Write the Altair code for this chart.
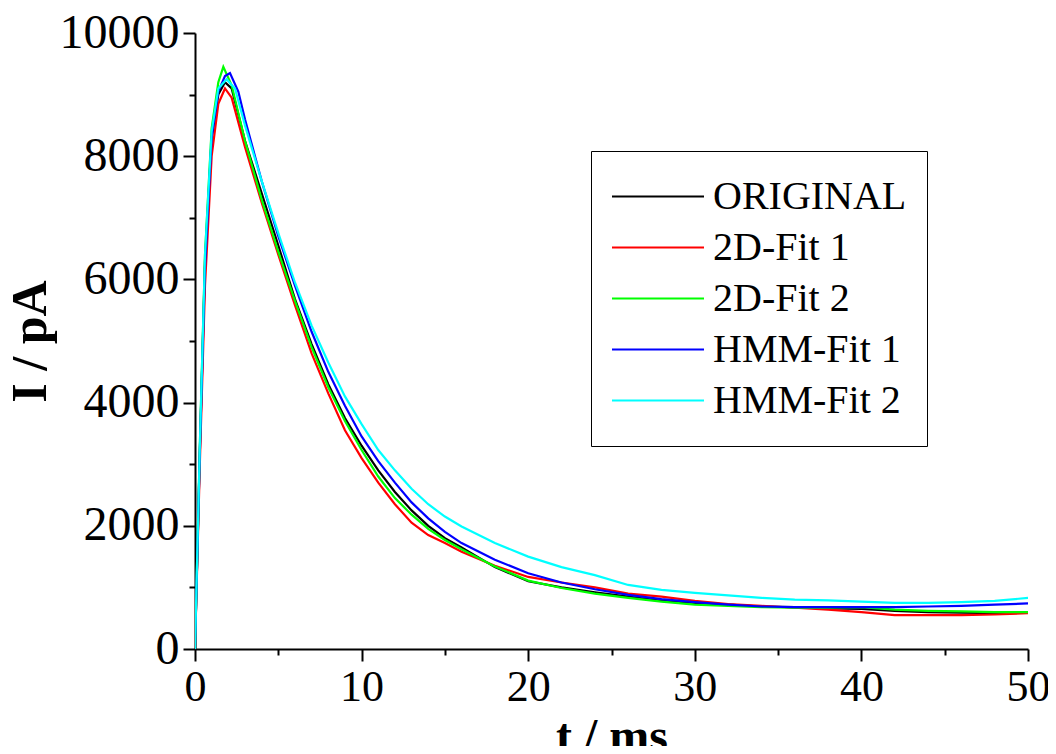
import altair as alt
import pandas as pd

series_names = ["ORIGINAL", "2D-Fit 1", "2D-Fit 2", "HMM-Fit 1", "HMM-Fit 2"]
series_colors = ["#000000", "#ff0000", "#00ff00", "#0000ff", "#00ffff"]

t_original = [0, 0.3, 0.6, 1.0, 1.4, 1.8, 2.2, 3, 4, 5, 6, 7, 8, 9, 10, 11, 12, 13, 14, 15, 16, 18, 20, 22, 24, 26, 28, 30, 32, 34, 36, 38, 40, 42, 44, 46, 48, 50]
i_original = [0, 3300, 6300, 8300, 9000, 9200, 9100, 8250, 7400, 6550, 5680, 4950, 4300, 3750, 3300, 2900, 2550, 2250, 2000, 1800, 1650, 1330, 1100, 1000, 920, 850, 780, 750, 720, 690, 680, 660, 650, 620, 600, 590, 580, 590]

t_fit2d_1 = [0, 0.3, 0.6, 1.0, 1.4, 1.8, 2.2, 3, 4, 5, 6, 7, 8, 9, 10, 11, 12, 13, 14, 15, 16, 18, 20, 22, 24, 26, 28, 30, 32, 34, 36, 38, 40, 42, 44, 46, 48, 50]
i_fit2d_1 = [0, 3100, 5900, 8000, 8850, 9100, 8950, 8150, 7250, 6400, 5580, 4800, 4150, 3550, 3100, 2700, 2350, 2050, 1850, 1720, 1580, 1350, 1170, 1080, 1000, 900, 850, 780, 730, 700, 670, 640, 600, 550, 550, 550, 560, 580]

t_fit2d_2 = [0, 0.3, 0.6, 1.0, 1.4, 1.7, 2.2, 3, 4, 5, 6, 7, 8, 9, 10, 11, 12, 13, 14, 15, 16, 18, 20, 22, 24, 26, 28, 30, 32, 34, 36, 38, 40, 42, 44, 46, 48, 50]
i_fit2d_2 = [0, 3400, 6400, 8450, 9200, 9450, 9150, 8250, 7300, 6450, 5650, 4900, 4250, 3700, 3230, 2800, 2450, 2180, 1950, 1770, 1620, 1340, 1110, 990, 900, 830, 770, 720, 700, 680, 670, 670, 680, 640, 620, 610, 600, 600]

t_hmm_1 = [0, 0.3, 0.6, 1.0, 1.4, 1.8, 2.1, 2.6, 3, 4, 5, 6, 7, 8, 9, 10, 11, 12, 13, 14, 15, 16, 18, 20, 22, 24, 26, 28, 30, 32, 34, 36, 38, 40, 42, 44, 46, 48, 50]
i_hmm_1 = [0, 3300, 6200, 8300, 9050, 9300, 9350, 9050, 8600, 7600, 6700, 5900, 5150, 4500, 3950, 3450, 3050, 2700, 2380, 2120, 1900, 1720, 1450, 1230, 1080, 970, 880, 810, 760, 720, 690, 680, 680, 680, 680, 690, 700, 720, 740]

t_hmm_2 = [0, 0.3, 0.6, 1.0, 1.4, 1.9, 2.4, 3, 4, 5, 6, 7, 8, 9, 10, 11, 12, 13, 14, 15, 16, 18, 20, 22, 24, 26, 28, 30, 32, 34, 36, 38, 40, 42, 44, 46, 48, 50]
i_hmm_2 = [0, 3400, 6400, 8400, 9100, 9250, 9100, 8500, 7600, 6750, 5950, 5250, 4650, 4100, 3650, 3230, 2900, 2600, 2350, 2150, 1990, 1720, 1500, 1330, 1200, 1040, 960, 910, 870, 830, 800, 790, 770, 750, 750, 760, 780, 830]

x_ticks = [0, 5, 10, 15, 20, 25, 30, 35, 40, 45, 50]
y_ticks = [0, 1000, 2000, 3000, 4000, 5000, 6000, 7000, 8000, 9000, 10000]

rows = []
for name, ts, vs in zip(series_names,
                        [t_original, t_fit2d_1, t_fit2d_2, t_hmm_1, t_hmm_2],
                        [i_original, i_fit2d_1, i_fit2d_2, i_hmm_1, i_hmm_2]):
    for k, (t, v) in enumerate(zip(ts, vs)):
        rows.append({"series": name, "t": t, "I": v, "idx": k})
df = pd.DataFrame(rows)

FONT = "Liberation Serif"

color_scale = alt.Scale(domain=series_names, range=series_colors)

layers = []
for name in series_names:
    layers.append(
        alt.Chart(df[df.series == name]).mark_line(strokeWidth=2.2, clip=True).encode(
            x=alt.X("t:Q", scale=alt.Scale(domain=[0, 50], nice=False),
                    axis=alt.Axis(
                        values=x_ticks, title="t / ms",
                        labelExpr="datum.value % 10 == 0 ? datum.label : ''",
                        tickSize={"condition": {"test": "datum.value % 10 == 0", "value": 12}, "value": 6},
                        labelFlush=False, labelOverlap=False, labelFontSize=44)),
            y=alt.Y("I:Q", scale=alt.Scale(domain=[0, 10000], nice=False),
                    axis=alt.Axis(
                        values=y_ticks, title="I / pA", format="d",
                        labelExpr="datum.value % 2000 == 0 ? datum.label : ''",
                        tickSize={"condition": {"test": "datum.value % 2000 == 0", "value": 12}, "value": 6},
                        labelFlush=False, labelOverlap=False, labelFontSize=48,
                        titlePadding=4, titleFontSize=50)),
            color=alt.Color("series:N", scale=color_scale, sort=series_names,
                            legend=alt.Legend(
                                title=None, orient="none", legendX=396, legendY=118,
                                strokeColor="black", fillColor="white", padding=20,
                                symbolType="stroke", symbolSize=8464, symbolStrokeWidth=2,
                                clipHeight=51,
                                labelFont=FONT, labelFontSize=40, labelOffset=8,
                                labelLimit=0, rowPadding=0, labelColor="black")),
            order="idx:Q",
        )
    )

chart = alt.layer(*layers).properties(
    width=833, height=616,
    padding={"left": 187, "top": 25, "right": 20, "bottom": 97},
    autosize=alt.AutoSizeParams(type="none"),
).configure_view(strokeWidth=0).configure_axis(
    domainColor="black", domainWidth=2, tickColor="black", tickWidth=2,
    labelFont=FONT, labelColor="black", labelPadding=4,
    titleFont=FONT, titleFontSize=48, titleFontWeight="bold", titleColor="black",
    grid=False,
)

chart.save("out.html", embed_options={"renderer": "svg", "actions": False})
